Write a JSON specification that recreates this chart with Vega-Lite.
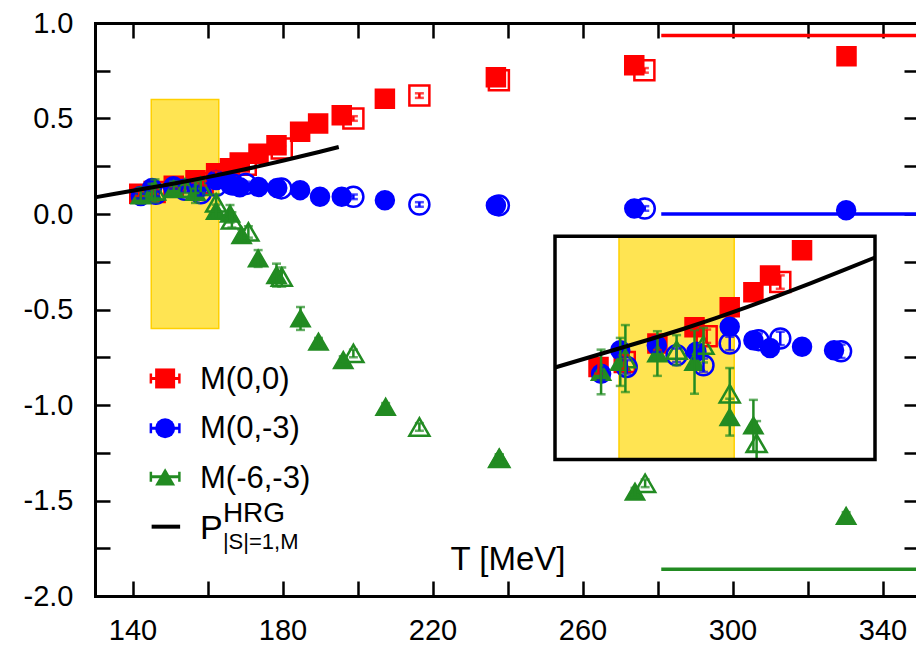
{
  "$schema": "https://vega.github.io/schema/vega-lite/v6.json",
  "width": 821,
  "height": 573,
  "autosize": {"type": "none"},
  "padding": {"left": 95, "top": 23, "right": 0, "bottom": 50},
  "background": "white",
  "config": {"view": {"stroke": null}},
  "datasets": {
    "pts": [
      {"s":"M(0,0)","o":0,"T":141.8,"v":0.106,"e":0.012},
      {"s":"M(0,0)","o":0,"T":151.0,"v":0.148,"e":0.012},
      {"s":"M(0,0)","o":0,"T":156.8,"v":0.177,"e":0.012},
      {"s":"M(0,0)","o":0,"T":162.3,"v":0.213,"e":0.012},
      {"s":"M(0,0)","o":0,"T":166.0,"v":0.240,"e":0.012},
      {"s":"M(0,0)","o":0,"T":168.6,"v":0.270,"e":0.012},
      {"s":"M(0,0)","o":0,"T":173.6,"v":0.315,"e":0.012},
      {"s":"M(0,0)","o":0,"T":178.4,"v":0.360,"e":0.012},
      {"s":"M(0,0)","o":0,"T":184.7,"v":0.430,"e":0.012},
      {"s":"M(0,0)","o":0,"T":189.5,"v":0.474,"e":0.012},
      {"s":"M(0,0)","o":0,"T":195.8,"v":0.517,"e":0.012},
      {"s":"M(0,0)","o":0,"T":207.3,"v":0.604,"e":0.012},
      {"s":"M(0,0)","o":0,"T":236.9,"v":0.716,"e":0.012},
      {"s":"M(0,0)","o":0,"T":273.8,"v":0.779,"e":0.012},
      {"s":"M(0,0)","o":0,"T":330.4,"v":0.826,"e":0.012},
      {"s":"M(0,0)","o":1,"T":145.9,"v":0.115,"e":0.012},
      {"s":"M(0,0)","o":1,"T":158.7,"v":0.161,"e":0.012},
      {"s":"M(0,0)","o":1,"T":170.2,"v":0.258,"e":0.012},
      {"s":"M(0,0)","o":1,"T":179.8,"v":0.343,"e":0.012},
      {"s":"M(0,0)","o":1,"T":198.9,"v":0.500,"e":0.012},
      {"s":"M(0,0)","o":1,"T":216.5,"v":0.620,"e":0.012},
      {"s":"M(0,0)","o":1,"T":237.7,"v":0.700,"e":0.012},
      {"s":"M(0,0)","o":1,"T":276.5,"v":0.752,"e":0.012},
      {"s":"M(0,-3)","o":0,"T":142.2,"v":0.094,"e":0.012},
      {"s":"M(0,-3)","o":0,"T":145.2,"v":0.136,"e":0.012},
      {"s":"M(0,-3)","o":0,"T":150.9,"v":0.145,"e":0.012},
      {"s":"M(0,-3)","o":0,"T":157.1,"v":0.133,"e":0.012},
      {"s":"M(0,-3)","o":0,"T":162.3,"v":0.178,"e":0.012},
      {"s":"M(0,-3)","o":0,"T":166.0,"v":0.154,"e":0.012},
      {"s":"M(0,-3)","o":0,"T":168.6,"v":0.140,"e":0.012},
      {"s":"M(0,-3)","o":0,"T":173.6,"v":0.142,"e":0.012},
      {"s":"M(0,-3)","o":0,"T":178.6,"v":0.136,"e":0.012},
      {"s":"M(0,-3)","o":0,"T":184.7,"v":0.125,"e":0.012},
      {"s":"M(0,-3)","o":0,"T":190.0,"v":0.090,"e":0.012},
      {"s":"M(0,-3)","o":0,"T":195.8,"v":0.090,"e":0.012},
      {"s":"M(0,-3)","o":0,"T":207.3,"v":0.072,"e":0.012},
      {"s":"M(0,-3)","o":0,"T":236.9,"v":0.045,"e":0.012},
      {"s":"M(0,-3)","o":0,"T":273.8,"v":0.029,"e":0.012},
      {"s":"M(0,-3)","o":0,"T":330.3,"v":0.020,"e":0.012},
      {"s":"M(0,-3)","o":1,"T":146.2,"v":0.106,"e":0.012},
      {"s":"M(0,-3)","o":1,"T":154.0,"v":0.127,"e":0.012},
      {"s":"M(0,-3)","o":1,"T":158.2,"v":0.109,"e":0.012},
      {"s":"M(0,-3)","o":1,"T":162.3,"v":0.148,"e":0.012},
      {"s":"M(0,-3)","o":1,"T":166.8,"v":0.154,"e":0.012},
      {"s":"M(0,-3)","o":1,"T":170.2,"v":0.157,"e":0.012},
      {"s":"M(0,-3)","o":1,"T":179.7,"v":0.134,"e":0.012},
      {"s":"M(0,-3)","o":1,"T":198.9,"v":0.090,"e":0.012},
      {"s":"M(0,-3)","o":1,"T":216.5,"v":0.050,"e":0.012},
      {"s":"M(0,-3)","o":1,"T":237.7,"v":0.045,"e":0.012},
      {"s":"M(0,-3)","o":1,"T":276.6,"v":0.029,"e":0.012},
      {"s":"M(-6,-3)","o":0,"T":142.2,"v":0.097,"e":0.040},
      {"s":"M(-6,-3)","o":0,"T":145.2,"v":0.115,"e":0.043},
      {"s":"M(-6,-3)","o":0,"T":151.0,"v":0.130,"e":0.040},
      {"s":"M(-6,-3)","o":0,"T":156.8,"v":0.115,"e":0.057},
      {"s":"M(-6,-3)","o":0,"T":162.3,"v":0.016,"e":0.033},
      {"s":"M(-6,-3)","o":0,"T":166.0,"v":0.001,"e":0.046},
      {"s":"M(-6,-3)","o":0,"T":169.1,"v":-0.111,"e":0.030},
      {"s":"M(-6,-3)","o":0,"T":173.5,"v":-0.233,"e":0.044},
      {"s":"M(-6,-3)","o":0,"T":178.4,"v":-0.320,"e":0.060},
      {"s":"M(-6,-3)","o":0,"T":184.8,"v":-0.547,"e":0.060},
      {"s":"M(-6,-3)","o":0,"T":189.6,"v":-0.669,"e":0.020},
      {"s":"M(-6,-3)","o":0,"T":196.2,"v":-0.765,"e":0.020},
      {"s":"M(-6,-3)","o":0,"T":207.5,"v":-1.010,"e":0.020},
      {"s":"M(-6,-3)","o":0,"T":237.8,"v":-1.279,"e":0.020},
      {"s":"M(-6,-3)","o":0,"T":274.0,"v":-1.454,"e":0.020},
      {"s":"M(-6,-3)","o":0,"T":330.3,"v":-1.581,"e":0.020},
      {"s":"M(-6,-3)","o":1,"T":146.0,"v":0.121,"e":0.060},
      {"s":"M(-6,-3)","o":1,"T":154.0,"v":0.136,"e":0.027},
      {"s":"M(-6,-3)","o":1,"T":158.2,"v":0.145,"e":0.031},
      {"s":"M(-6,-3)","o":1,"T":162.3,"v":0.058,"e":0.046},
      {"s":"M(-6,-3)","o":1,"T":166.5,"v":-0.031,"e":0.040},
      {"s":"M(-6,-3)","o":1,"T":170.9,"v":-0.094,"e":0.030},
      {"s":"M(-6,-3)","o":1,"T":179.8,"v":-0.330,"e":0.050},
      {"s":"M(-6,-3)","o":1,"T":198.9,"v":-0.730,"e":0.020},
      {"s":"M(-6,-3)","o":1,"T":216.5,"v":-1.115,"e":0.020},
      {"s":"M(-6,-3)","o":1,"T":237.8,"v":-1.279,"e":0.020},
      {"s":"M(-6,-3)","o":1,"T":276.7,"v":-1.410,"e":0.020}
    ],
    "hrg": [
      {"T":130,"v":0.087},{"T":135,"v":0.105},{"T":140,"v":0.122},{"T":145,"v":0.139},
      {"T":150,"v":0.156},{"T":155,"v":0.174},{"T":160,"v":0.193},{"T":165,"v":0.213},
      {"T":170,"v":0.234},{"T":175,"v":0.256},{"T":180,"v":0.279},{"T":185,"v":0.302},
      {"T":190,"v":0.326},{"T":195,"v":0.351}
    ],
    "band": [{"T":145,"T2":163,"v":-0.6,"v2":0.6}],
    "box": [{"T":135,"T2":185,"v":-0.06,"v2":0.34}],
    "lines": [
      {"s":"M(0,0)","T":281,"T2":348.93,"v":0.935},
      {"s":"M(0,-3)","T":281,"T2":348.93,"v":0.0},
      {"s":"M(-6,-3)","T":281,"T2":348.93,"v":-1.86}
    ],
    "leg": [
      {"s":"M(0,0)","T":148.7,"v":-0.861,"lt":158,"lv":-0.918},
      {"s":"M(0,-3)","T":148.7,"v":-1.122,"lt":158,"lv":-1.175},
      {"s":"M(-6,-3)","T":148.7,"v":-1.376,"lt":158,"lv":-1.433}
    ],
    "legline": [{"T":145.1,"T2":152.7,"v":-1.637}],
    "ptxt": [
      {"part":"P","txt":"P","T":158,"v":-1.702},
      {"part":"sup","txt":"HRG","T":164.1,"v":-1.61},
      {"part":"sub","txt":"|S|=1,M","T":164.1,"v":-1.752}
    ]
  },
  "layer": [
    {
      "layer": [
        {
          "data": {"name": "band"},
          "mark": {"type": "rect", "fill": "#FFD700", "fillOpacity": 0.68, "stroke": "#FFD000", "strokeWidth": 1.5},
          "encoding": {
            "x": {"field": "T", "type": "quantitative", "scale": {"domain": [130, 348.93], "nice": false, "zero": false},
              "axis": {"orient": "bottom", "values": [140,160,180,200,220,240,260,280,300,320,340], "tickSize": -15, "tickWidth": 2.5, "tickColor": "black",
                "domainColor": "black", "domainWidth": 3, "domainCap": "square", "grid": false,
                "labelExpr": "datum.value % 40 == 20 ? format(datum.value, 'd') : ''", "labelFont": "Liberation Sans", "labelFontSize": 29, "labelColor": "black",
                "labelPadding": 35, "labelFlush": false, "labelOverlap": false,
                "title": "T [MeV]", "titleFont": "Liberation Sans", "titleFontSize": 33, "titleFontWeight": "normal", "titleColor": "black",
                "titleX": 412.5, "titleY": -27, "titleBaseline": "alphabetic", "titleAlign": "center"}},
            "x2": {"field": "T2"},
            "y": {"field": "v", "type": "quantitative", "scale": {"domain": [-2, 1], "nice": false, "zero": false},
              "axis": {"orient": "left", "values": [-2,-1.75,-1.5,-1.25,-1,-0.75,-0.5,-0.25,0,0.25,0.5,0.75,1], "tickSize": -15, "tickWidth": 2.5, "tickColor": "black",
                "domainColor": "black", "domainWidth": 3, "domainCap": "square", "grid": false,
                "labelExpr": "abs(datum.value*2 - round(datum.value*2)) > 0.01 ? '' : (datum.value < 0 ? '-' + format(-datum.value, '.1f') : format(datum.value, '.1f'))",
                "labelFont": "Liberation Sans", "labelFontSize": 29, "labelColor": "black", "labelPadding": 37, "labelFlush": false, "labelOverlap": false, "title": null}},
            "y2": {"field": "v2"}
          }
        },
        {
          "data": {"name": "lines"},
          "mark": {"type": "rule", "strokeWidth": 3.5, "clip": true},
          "encoding": {
            "x": {"field": "T", "type": "quantitative", "scale": {"domain": [130, 348.93], "nice": false, "zero": false},
              "axis": {"orient": "top", "values": [140,160,180,200,220,240,260,280,300,320,340], "tickSize": -15, "tickWidth": 2.5, "tickColor": "black",
                "domainColor": "black", "domainWidth": 3, "domainCap": "square", "labels": false, "grid": false, "title": null}},
            "x2": {"field": "T2"},
            "y": {"field": "v", "type": "quantitative", "scale": {"domain": [-2, 1], "nice": false, "zero": false},
              "axis": {"orient": "right", "values": [-2,-1.75,-1.5,-1.25,-1,-0.75,-0.5,-0.25,0,0.25,0.5,0.75,1], "tickSize": -12, "tickWidth": 2.5, "tickColor": "black",
                "domain": false, "labels": false, "grid": false, "title": null}},
            "color": {"field": "s", "type": "nominal", "scale": {"domain": ["M(0,0)","M(0,-3)","M(-6,-3)"], "range": ["#FF0000","#0000FF","#228B22"]}, "legend": null}
          }
        },
        {
          "data": {"name": "pts"},
          "mark": {"type": "point", "filled": true, "opacity": 1, "strokeWidth": 2.5},
          "encoding": {
            "x": {"field": "T", "type": "quantitative", "scale": {"domain": [130, 348.93], "nice": false, "zero": false}, "axis": null},
            "y": {"field": "v", "type": "quantitative", "scale": {"domain": [-2, 1], "nice": false, "zero": false}, "axis": null},
            "shape": {"field": "s", "type": "nominal", "scale": {"domain": ["M(0,0)","M(0,-3)","M(-6,-3)"], "range": ["square","circle","triangle-up"]}, "legend": null},
            "fill": {"condition": {"test": "datum.o == 1", "value": "transparent"}, "field": "s", "type": "nominal", "scale": {"domain": ["M(0,0)","M(0,-3)","M(-6,-3)"], "range": ["#FF0000","#0000FF","#228B22"]}, "legend": null},
            "stroke": {"field": "s", "type": "nominal", "scale": {"domain": ["M(0,0)","M(0,-3)","M(-6,-3)"], "range": ["#FF0000","#0000FF","#228B22"]}, "legend": null},
            "size": {"condition": {"test": "datum.o == 1", "value": 400}, "value": 324}
          }
        },
        {
          "data": {"name": "pts"},
          "mark": {"type": "errorbar", "thickness": 2.5, "ticks": {"size": 9, "thickness": 2.5}},
          "encoding": {
            "x": {"field": "T", "type": "quantitative", "scale": {"domain": [130, 348.93], "nice": false, "zero": false}, "axis": null},
            "y": {"field": "v", "type": "quantitative", "scale": {"domain": [-2, 1], "nice": false, "zero": false}, "axis": null},
            "yError": {"field": "e"},
            "color": {"field": "s", "type": "nominal", "scale": {"domain": ["M(0,0)","M(0,-3)","M(-6,-3)"], "range": ["#FF0000","#0000FF","#228B22"]}, "legend": null}
          }
        },
        {
          "data": {"name": "hrg"},
          "mark": {"type": "line", "stroke": "black", "strokeWidth": 4},
          "encoding": {
            "x": {"field": "T", "type": "quantitative", "scale": {"domain": [130, 348.93], "nice": false, "zero": false}, "axis": null},
            "y": {"field": "v", "type": "quantitative", "scale": {"domain": [-2, 1], "nice": false, "zero": false}, "axis": null}
          }
        },
        {
          "data": {"name": "leg"},
          "mark": {"type": "point", "filled": true, "opacity": 1, "size": 961, "shape": "M-1,-0.32H-0.84V-0.1H0.84V-0.32H1V0.32H0.84V0.1H-0.84V0.32H-1Z"},
          "encoding": {
            "x": {"field": "T", "type": "quantitative", "scale": {"domain": [130, 348.93], "nice": false, "zero": false}, "axis": null},
            "y": {"field": "v", "type": "quantitative", "scale": {"domain": [-2, 1], "nice": false, "zero": false}, "axis": null},
            "color": {"field": "s", "type": "nominal", "scale": {"domain": ["M(0,0)","M(0,-3)","M(-6,-3)"], "range": ["#FF0000","#0000FF","#228B22"]}, "legend": null}
          }
        },
        {
          "data": {"name": "leg"},
          "mark": {"type": "point", "filled": true, "opacity": 1, "size": 400},
          "encoding": {
            "x": {"field": "T", "type": "quantitative", "scale": {"domain": [130, 348.93], "nice": false, "zero": false}, "axis": null},
            "y": {"field": "v", "type": "quantitative", "scale": {"domain": [-2, 1], "nice": false, "zero": false}, "axis": null},
            "shape": {"field": "s", "type": "nominal", "scale": {"domain": ["M(0,0)","M(0,-3)","M(-6,-3)"], "range": ["square","circle","triangle-up"]}, "legend": null},
            "color": {"field": "s", "type": "nominal", "scale": {"domain": ["M(0,0)","M(0,-3)","M(-6,-3)"], "range": ["#FF0000","#0000FF","#228B22"]}, "legend": null}
          }
        },
        {
          "data": {"name": "leg"},
          "mark": {"type": "text", "align": "left", "baseline": "alphabetic", "font": "Liberation Sans", "fontSize": 31, "color": "black"},
          "encoding": {
            "x": {"field": "lt", "type": "quantitative", "scale": {"domain": [130, 348.93], "nice": false, "zero": false}, "axis": null},
            "y": {"field": "lv", "type": "quantitative", "scale": {"domain": [-2, 1], "nice": false, "zero": false}, "axis": null},
            "text": {"field": "s"}
          }
        },
        {
          "data": {"name": "legline"},
          "mark": {"type": "rule", "strokeWidth": 4, "color": "black"},
          "encoding": {
            "x": {"field": "T", "type": "quantitative", "scale": {"domain": [130, 348.93], "nice": false, "zero": false}, "axis": null},
            "x2": {"field": "T2"},
            "y": {"field": "v", "type": "quantitative", "scale": {"domain": [-2, 1], "nice": false, "zero": false}, "axis": null}
          }
        },
        {
          "data": {"name": "ptxt"},
          "mark": {"type": "text", "align": "left", "baseline": "alphabetic", "font": "Liberation Sans", "color": "black"},
          "encoding": {
            "x": {"field": "T", "type": "quantitative", "scale": {"domain": [130, 348.93], "nice": false, "zero": false}, "axis": null},
            "y": {"field": "v", "type": "quantitative", "scale": {"domain": [-2, 1], "nice": false, "zero": false}, "axis": null},
            "text": {"field": "txt"},
            "size": {"field": "part", "type": "nominal", "scale": {"domain": ["P","sup","sub"], "range": [34,22,22]}, "legend": null}
          }
        }
      ],
      "resolve": {"axis": {"x": "independent", "y": "independent"}}
    },
    {
      "layer": [
        {
          "data": {"name": "box"},
          "mark": {"type": "rect", "fill": "white"},
          "encoding": {
            "x": {"field": "T", "type": "quantitative", "scale": {"domain": [135, 185], "range": [460, 780], "nice": false, "zero": false}, "axis": null},
            "x2": {"field": "T2"},
            "y": {"field": "v", "type": "quantitative", "scale": {"domain": [-0.06, 0.34], "range": [436.6, 213.3], "nice": false, "zero": false, "clamp": true}, "axis": null},
            "y2": {"field": "v2"}
          }
        },
        {
          "data": {"name": "band"},
          "mark": {"type": "rect", "fill": "#FFD700", "fillOpacity": 0.68, "stroke": "#FFD000", "strokeWidth": 1.5},
          "encoding": {
            "x": {"field": "T", "type": "quantitative", "scale": {"domain": [135, 185], "range": [460, 780], "nice": false, "zero": false}, "axis": null},
            "x2": {"field": "T2"},
            "y": {"field": "v", "type": "quantitative", "scale": {"domain": [-0.06, 0.34], "range": [436.6, 213.3], "nice": false, "zero": false, "clamp": true}, "axis": null},
            "y2": {"field": "v2"}
          }
        },
        {
          "data": {"name": "pts"},
          "transform": [{"filter": "datum.T >= 135 && datum.T <= 184 && datum.v >= -0.06 && datum.v <= 0.34"}],
          "mark": {"type": "point", "filled": true, "opacity": 1, "strokeWidth": 2.5},
          "encoding": {
            "x": {"field": "T", "type": "quantitative", "scale": {"domain": [135, 185], "range": [460, 780], "nice": false, "zero": false}, "axis": null},
            "y": {"field": "v", "type": "quantitative", "scale": {"domain": [-0.06, 0.34], "range": [436.6, 213.3], "nice": false, "zero": false, "clamp": true}, "axis": null},
            "shape": {"field": "s", "type": "nominal", "scale": {"domain": ["M(0,0)","M(0,-3)","M(-6,-3)"], "range": ["square","circle","triangle-up"]}, "legend": null},
            "fill": {"condition": {"test": "datum.o == 1", "value": "transparent"}, "field": "s", "type": "nominal", "scale": {"domain": ["M(0,0)","M(0,-3)","M(-6,-3)"], "range": ["#FF0000","#0000FF","#228B22"]}, "legend": null},
            "stroke": {"field": "s", "type": "nominal", "scale": {"domain": ["M(0,0)","M(0,-3)","M(-6,-3)"], "range": ["#FF0000","#0000FF","#228B22"]}, "legend": null},
            "size": {"condition": {"test": "datum.o == 1", "value": 400}, "value": 324}
          }
        },
        {
          "data": {"name": "pts"},
          "transform": [{"filter": "datum.T >= 135 && datum.T <= 184 && datum.v >= -0.06 && datum.v <= 0.34"}],
          "mark": {"type": "errorbar", "thickness": 2.5, "ticks": {"size": 9, "thickness": 2.5}},
          "encoding": {
            "x": {"field": "T", "type": "quantitative", "scale": {"domain": [135, 185], "range": [460, 780], "nice": false, "zero": false}, "axis": null},
            "y": {"field": "v", "type": "quantitative", "scale": {"domain": [-0.06, 0.34], "range": [436.6, 213.3], "nice": false, "zero": false, "clamp": true}, "axis": null},
            "yError": {"field": "e"},
            "color": {"field": "s", "type": "nominal", "scale": {"domain": ["M(0,0)","M(0,-3)","M(-6,-3)"], "range": ["#FF0000","#0000FF","#228B22"]}, "legend": null}
          }
        },
        {
          "data": {"name": "hrg"},
          "transform": [{"filter": "datum.T >= 135 && datum.T <= 185"}],
          "mark": {"type": "line", "stroke": "black", "strokeWidth": 4},
          "encoding": {
            "x": {"field": "T", "type": "quantitative", "scale": {"domain": [135, 185], "range": [460, 780], "nice": false, "zero": false}, "axis": null},
            "y": {"field": "v", "type": "quantitative", "scale": {"domain": [-0.06, 0.34], "range": [436.6, 213.3], "nice": false, "zero": false, "clamp": true}, "axis": null}
          }
        },
        {
          "data": {"name": "box"},
          "mark": {"type": "rect", "fill": null, "fillOpacity": 0, "stroke": "black", "strokeWidth": 3.5},
          "encoding": {
            "x": {"field": "T", "type": "quantitative", "scale": {"domain": [135, 185], "range": [460, 780], "nice": false, "zero": false}, "axis": null},
            "x2": {"field": "T2"},
            "y": {"field": "v", "type": "quantitative", "scale": {"domain": [-0.06, 0.34], "range": [436.6, 213.3], "nice": false, "zero": false, "clamp": true}, "axis": null},
            "y2": {"field": "v2"}
          }
        }
      ]
    }
  ],
  "resolve": {"scale": {"x": "independent", "y": "independent"}}
}
